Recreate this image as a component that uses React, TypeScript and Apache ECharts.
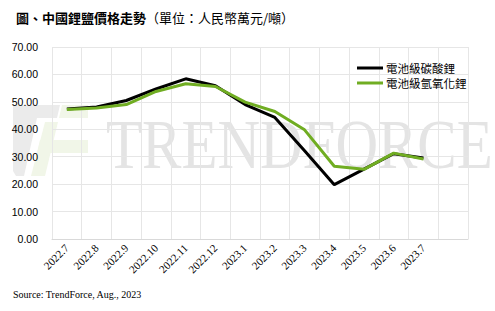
import React, { useEffect, useRef } from "react";
import * as echarts from "echarts";

const categories = ["2022.7", "2022.8", "2022.9", "2022.10", "2022.11", "2022.12", "2023.1", "2023.2", "2023.3", "2023.4", "2023.5", "2023.6", "2023.7", ""];
const carbonate = [47.4, 48.1, 50.5, 54.7, 58.4, 55.9, 49.0, 44.3, 32.2, 19.8, 25.5, 31.1, 29.5];
const hydroxide = [47.2, 47.8, 49.0, 53.8, 56.6, 55.6, 49.9, 46.5, 39.8, 26.5, 25.4, 31.3, 29.2];
const seriesNames = ["電池級碳酸鋰", "電池級氫氧化鋰"];
const yTicks = { min: 0, max: 70, interval: 10 };

export default function App() {
  const ref = useRef<HTMLDivElement>(null);
  useEffect(() => {
    if (!ref.current) return;
    const chart = echarts.init(ref.current, null, { renderer: "svg" });
    chart.setOption({
      animation: false,
      backgroundColor: "#ffffff",
      title: {
        left: 11,
        top: 6,
        text: "{b|圖、中國鋰鹽價格走勢}{r|（單位：人民幣萬元/噸）}",
        textStyle: {
          rich: {
            b: { fontFamily: "Noto Sans CJK TC", fontWeight: "bold", fontSize: 13, color: "#000" },
            r: { fontFamily: "Noto Sans CJK TC", fontWeight: "normal", fontSize: 13, color: "#000" },
          },
        },
      },
      graphic: [
        {
          type: "polygon",
          z: 0,
          shape: { points: [[13, 105], [60, 105], [57, 118], [37, 118], [24, 176], [16, 176], [13, 171]] },
          style: { fill: "#ebebeb" },
        },
        {
          type: "polygon",
          z: 0,
          shape: { points: [[62, 105], [88, 105], [88, 118], [59, 118]] },
          style: { fill: "#f1f6e8" },
        },
        {
          type: "polygon",
          z: 0,
          shape: { points: [[45, 122], [58, 122], [45, 176], [31, 176]] },
          style: { fill: "#f1f6e8" },
        },
        {
          type: "polygon",
          z: 0,
          shape: { points: [[40, 140], [88, 140], [88, 153], [37, 153]] },
          style: { fill: "#f1f6e8" },
        },
        {
          type: "text",
          z: 0,
          x: 106,
          y: 145,
          scaleX: 0.855,
          style: {
            text: "TRENDFORCE",
            fontFamily: "Liberation Serif",
            fontSize: 69,
            fill: "#e4e4e4",
            verticalAlign: "middle",
            align: "left",
          },
        },
        {
          type: "text",
          left: 13,
          top: 289,
          style: {
            text: "Source: TrendForce, Aug., 2023",
            fontFamily: "Liberation Serif",
            fontSize: 10,
            fill: "#000",
          },
        },
      ],
      legend: {
        orient: "vertical",
        left: 352,
        top: 57,
        itemWidth: 26,
        itemHeight: 3,
        itemGap: 3,
        icon: "rect",
        data: seriesNames,
        textStyle: { fontFamily: "Noto Sans CJK TC", fontSize: 11.5, lineHeight: 12, color: "#000", padding: [0, 0, 0, -2] },
      },
      grid: { left: 52, right: 27, top: 47, bottom: 72, containLabel: false },
      xAxis: {
        type: "category",
        data: categories,
        boundaryGap: true,
        axisLine: { show: true, lineStyle: { color: "#d9d9d9", width: 1 } },
        axisTick: { show: false },
        splitLine: { show: true, interval: 0, lineStyle: { color: "#e6e6e6", width: 1 } },
        axisLabel: {
          interval: 0,
          rotate: 45,
          margin: 7,
          fontFamily: "Liberation Serif",
          fontSize: 11,
          color: "#000",
        },
      },
      yAxis: {
        type: "value",
        min: yTicks.min,
        max: yTicks.max,
        interval: yTicks.interval,
        axisLine: { show: false },
        axisTick: { show: false },
        splitLine: { show: true, lineStyle: { color: "#e6e6e6", width: 1 } },
        axisLabel: {
          margin: 14,
          fontFamily: "Liberation Sans",
          fontSize: 10.5,
          color: "#000",
          formatter: (v: number) => v.toFixed(2),
        },
      },
      series: [
        {
          name: seriesNames[0],
          type: "line",
          data: carbonate,
          symbol: "none",
          z: 3,
          lineStyle: { color: "#000000", width: 3 },
          itemStyle: { color: "#000000" },
        },
        {
          name: seriesNames[1],
          type: "line",
          data: hydroxide,
          symbol: "none",
          z: 4,
          lineStyle: { color: "#70ad22", width: 3 },
          itemStyle: { color: "#70ad22" },
        },
      ],
    });
    return () => chart.dispose();
  }, []);
  return <div ref={ref} style={{ position: "fixed", left: 0, top: 0, width: 495, height: 311 }} />;
}
